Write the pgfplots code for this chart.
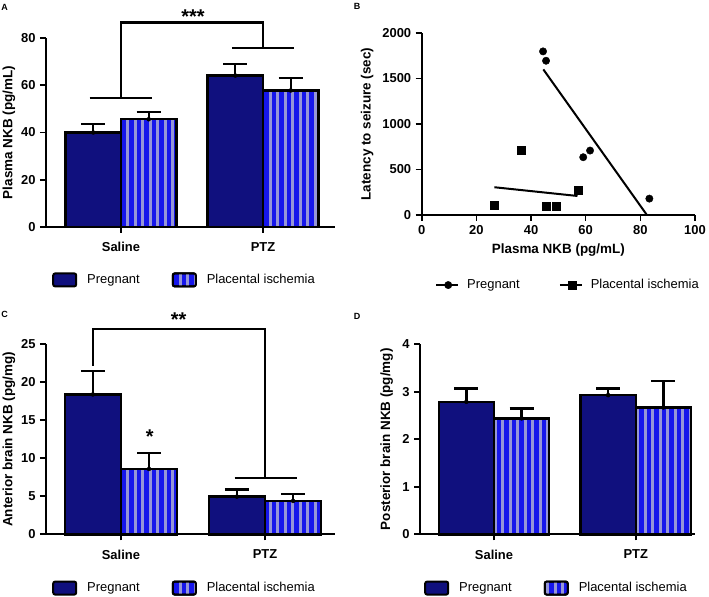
\documentclass[border=0pt]{standalone}
\usepackage{pgfplots}
\pgfplotsset{compat=1.18}
\usetikzlibrary{patterns.meta}
\usepackage{fontspec}
\setmainfont{Liberation Sans}
\definecolor{navy}{RGB}{16,16,126}
\definecolor{brightblue}{RGB}{22,22,235}
\definecolor{stripe}{RGB}{150,150,215}
\pgfplotsset{
  gp/.style={
    scale only axis, anchor=south west,
    axis lines*=left,
    axis line style={line width=1.6bp, black},
    tick style={line width=1.6bp, black},
    tick align=outside,
    major tick length=6bp,
    xtick pos=bottom, ytick pos=left,
    clip=false,
    enlargelimits=false,
    scaled ticks=false,
    /pgf/number format/assume math mode=true,
    /pgf/number format/1000 sep={},
    tick label style={font=\fontsize{13}{15}\selectfont\bfseries},
    label style={font=\fontsize{13.5}{16}\selectfont\bfseries},
    legend style={draw=none, fill=none, font=\fontsize{13}{15}\selectfont,
      legend columns=2, inner sep=0pt, nodes={inner sep=0pt, anchor=west},
      /tikz/every odd column/.append style={column sep=10bp},
      /tikz/every even column/.append style={column sep=32bp}},
    legend cell align=left,
  },
  gpbar/.style={gp, xtick={0,1}, xticklabels={Saline,PTZ}, ymin=0,
    xticklabel style={yshift=-5bp}},
  boxleg/.style={legend image code/.code={\draw[##1, line width=2bp, rounded corners=2bp] (0bp,-6.5bp) rectangle (23bp,6.5bp);}},
  preg/.style={ybar, bar width=0.39, bar shift=-0.195, fill=navy, draw=black, line width=2.4bp, boxleg},
  plac/.style={ybar, bar width=0.39, bar shift=0.195, fill=brightblue, draw=black, line width=2.4bp,
     postaction={pattern={Lines[angle=90,distance=7.5bp,line width=3bp]}, pattern color=stripe}, boxleg},
  errb/.style={only marks, mark=none, forget plot, black,
     error bars/.cd, y dir=plus, y explicit,
     error bar style={line width=2.3bp, black},
     error mark options={rotate=90, line width=2.3bp, black, mark size=12bp}},
  brk/.style={black, line width=2.3bp, forget plot, mark=none},
  scatleg/.style={legend image code/.code={\draw[black,line width=2bp] (0bp,0bp)--(22bp,0bp); \draw[##1] plot coordinates {(12bp,0bp)};}},
}
\begin{document}
\fontsize{13}{15}\selectfont
\begin{tikzpicture}[font=\fontsize{13}{15}\selectfont]
\useasboundingbox (0bp,0bp) rectangle (709bp,597bp);

% ---------------- Panel A
\begin{axis}[gpbar, at={(46bp,370bp)}, width=289bp, height=189bp,
  xmin=-0.528, xmax=1.507, ymax=80, ytick={0,20,40,60,80},
  ylabel={Plasma NKB (pg/mL)},
  ylabel style={at={(axis description cs:-0.128,0.5)}, anchor=center},
  legend style={at={(axis description cs:0.0208,-0.280)}, anchor=west}]
\addplot[errb] coordinates {(-0.195,40.0) +- (0,3.7) (0.805,64.1) +- (0,5.0)};
\addplot[errb] coordinates {(0.195,45.6) +- (0,3.1) (1.195,57.8) +- (0,5.4)};
\addplot[preg] coordinates {(0,40.0) (1,64.1)};
\addlegendentry{Pregnant}
\addplot[plac] coordinates {(0,45.6) (1,57.8)};
\addlegendentry{Placental ischemia}
\addplot[brk] coordinates {(-0.22,54.5) (0.22,54.5)};
\addplot[brk] coordinates {(0,54.5) (0,86.6) (1,86.6) (1,75.9)};
\addplot[brk] coordinates {(0.78,75.9) (1.22,75.9)};
\node[font=\fontsize{20}{20}\selectfont\bfseries] at (axis cs:0.507,89.0) {***};
\end{axis}

% ---------------- Panel B
\begin{axis}[gp, at={(421.7bp,382bp)}, width=273.3bp, height=182bp,
  xmin=0, xmax=100, ymin=0, ymax=2000,
  xtick={0,20,40,60,80,100}, ytick={0,500,1000,1500,2000},
  xlabel={Plasma NKB (pg/mL)}, ylabel={Latency to seizure (sec)},
  xlabel style={at={(axis description cs:0.5,-0.193)}, anchor=center},
  ylabel style={at={(axis description cs:-0.2,0.5)}, anchor=center},
  legend style={at={(axis description cs:0.0487,-0.385)}, anchor=west,
    /tikz/every odd column/.append style={column sep=8bp},
    /tikz/every even column/.append style={column sep=39bp}}]
\addplot[only marks, mark=*, mark size=3.7bp, black, scatleg] coordinates {
  (44.4,1798) (45.5,1695) (59.1,635) (61.6,708) (83.3,180)};
\addlegendentry{Pregnant}
\addplot[only marks, mark=square*, mark size=4bp, black, scatleg] coordinates {
  (26.6,110) (36.3,708) (45.6,99) (49.3,92) (57.2,275)};
\addlegendentry{Placental ischemia}
\addplot[black, line width=2bp, mark=none, forget plot] coordinates {(44.5,1600) (82.4,0)};
\addplot[black, line width=2bp, mark=none, forget plot] coordinates {(26.6,305) (57.0,209)};
\end{axis}

% ---------------- Panel C
\begin{axis}[gpbar, at={(46bp,62.7bp)}, width=289bp, height=190bp,
  xmin=-0.52, xmax=1.486, ymax=25, ytick={0,5,10,15,20,25},
  ylabel={Anterior brain NKB (pg/mg)},
  ylabel style={at={(axis description cs:-0.128,0.5)}, anchor=center},
  legend style={at={(axis description cs:0.0208,-0.283)}, anchor=west}]
\addplot[errb] coordinates {(-0.195,18.4) +- (0,3.1) (0.805,4.96) +- (0,0.94)};
\addplot[errb] coordinates {(0.195,8.6) +- (0,2.1) (1.195,4.39) +- (0,0.87)};
\addplot[preg] coordinates {(0,18.4) (1,4.96)};
\addlegendentry{Pregnant}
\addplot[plac] coordinates {(0,8.6) (1,4.39)};
\addlegendentry{Placental ischemia}
\addplot[brk] coordinates {(-0.195,22.2) (-0.195,27.0) (1.0,27.0) (1.0,7.4)};
\addplot[brk] coordinates {(0.79,7.4) (1.22,7.4)};
\node[font=\fontsize{20}{20}\selectfont\bfseries] at (axis cs:0.40,28.3) {**};
\node[font=\fontsize{20}{20}\selectfont\bfseries] at (axis cs:0.20,12.8) {*};
\end{axis}

% ---------------- Panel D
\begin{axis}[gpbar, at={(420bp,62.7bp)}, width=275bp, height=190bp,
  xmin=-0.522, xmax=1.418, ymax=4, ytick={0,1,2,3,4},
  ylabel={Posterior brain NKB (pg/mg)},
  ylabel style={at={(axis description cs:-0.121,0.5)}, anchor=center},
  legend style={at={(axis description cs:0.0145,-0.283)}, anchor=west}]
\addplot[errb] coordinates {(-0.195,2.79) +- (0,0.28) (0.805,2.93) +- (0,0.14)};
\addplot[errb] coordinates {(0.195,2.44) +- (0,0.21) (1.195,2.67) +- (0,0.56)};
\addplot[preg] coordinates {(0,2.79) (1,2.93)};
\addlegendentry{Pregnant}
\addplot[plac] coordinates {(0,2.44) (1,2.67)};
\addlegendentry{Placental ischemia}
\end{axis}

% panel letters
\node[font=\fontsize{9}{10}\selectfont\bfseries] at (4.5bp,590bp) {A};
\node[font=\fontsize{9}{10}\selectfont\bfseries] at (357bp,590.5bp) {B};
\node[font=\fontsize{9}{10}\selectfont\bfseries] at (4.5bp,282.5bp) {C};
\node[font=\fontsize{9}{10}\selectfont\bfseries] at (357bp,281bp) {D};
\end{tikzpicture}
\end{document}
